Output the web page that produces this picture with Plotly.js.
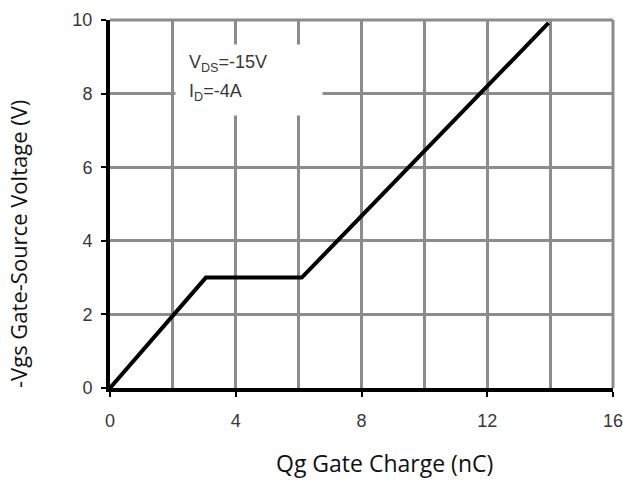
<!DOCTYPE html>
<html>
<head>
<meta charset="utf-8">
<script src="https://cdn.plot.ly/plotly-3.0.1.min.js"></script>
<style>html,body{margin:0;padding:0;background:#fff;}</style>
</head>
<body>
<div id="chart" style="width:623px;height:484px;"></div>
<script>
const qg = [0, 3.05, 6.1, 13.95];
const vgs = [0, 3.0, 3.0, 9.92];
const xTicks = [0, 4, 8, 12, 16];
const yTicks = [0, 2, 4, 6, 8, 10];
const xTitle = "Qg Gate Charge (nC)";
const yTitle = "-Vgs Gate-Source Voltage (V)";
const noteLine1 = "V<sub>DS</sub>=-15V";
const noteLine2 = "I<sub>D</sub>=-4A";

const gridColor = "#8c8c8c";
const tickFont = {family: "Liberation Sans, Arial, sans-serif", size: 18, color: "#383838"};
const noteFont = {family: "Liberation Sans, Arial, sans-serif", size: 18, color: "#383838"};

const data = [{
  x: qg, y: vgs, type: "scatter", mode: "lines",
  line: {color: "#000", width: 4}, hoverinfo: "skip", cliponaxis: false
}];

const layout = {
  width: 623, height: 484,
  margin: {l: 110, r: 10, t: 20, b: 96},
  paper_bgcolor: "#fff", plot_bgcolor: "#fff",
  showlegend: false,
  xaxis: {
    range: [0, 16], tickvals: xTicks, ticktext: xTicks.map(String),
    showgrid: true, gridcolor: gridColor, gridwidth: 3,
    minor: {dtick: 2, tick0: 0, showgrid: true, gridcolor: gridColor, gridwidth: 3, ticks: ""},
    showline: true, linecolor: "#000", linewidth: 4,
    ticks: "outside", ticklen: 5, tickwidth: 2, tickcolor: "#000",
    ticklabelstandoff: 8, ticklabeloverflow: "allow",
    tickfont: tickFont, zeroline: false, fixedrange: true
  },
  yaxis: {
    range: [0, 10], tickvals: yTicks, ticktext: yTicks.map(String),
    showgrid: true, gridcolor: gridColor, gridwidth: 3,
    showline: true, linecolor: "#000", linewidth: 4,
    ticks: "outside", ticklen: 5, tickwidth: 2, tickcolor: "#000",
    ticklabelstandoff: 5, ticklabeloverflow: "allow",
    tickfont: tickFont, zeroline: false, fixedrange: true
  },
  shapes: [
    {type: "line", xref: "paper", yref: "paper", x0: 0, x1: 1, y0: 1, y1: 1, line: {color: gridColor, width: 3}, layer: "below"},
    {type: "line", xref: "paper", yref: "paper", x0: 1, x1: 1, y0: 0, y1: 1, line: {color: gridColor, width: 3}, layer: "below"}
  ],
  annotations: [
    {xref: "x", yref: "y", x: 4.42, y: 8.37, text: " ", showarrow: false,
     bgcolor: "#fff", width: 146, height: 70, borderpad: 0, font: {size: 10}},
    {xref: "x", yref: "y", x: 2.45, y: 8.82, text: noteLine1, showarrow: false,
     xanchor: "left", yanchor: "middle", font: noteFont},
    {xref: "x", yref: "y", x: 2.45, y: 8.02, text: noteLine2, showarrow: false,
     xanchor: "left", yanchor: "middle", font: noteFont},
    {xref: "paper", yref: "paper", x: (384 - 110) / 503, y: (388 - 463) / 368, text: xTitle,
     showarrow: false, font: {family: "Open Sans, sans-serif", size: 23, color: "#111"},
     xanchor: "center", yanchor: "middle"},
    {xref: "paper", yref: "paper", x: (18 - 110) / 503, y: (388 - 244) / 368, text: yTitle,
     showarrow: false, font: {family: "Open Sans, sans-serif", size: 22, color: "#111"},
     textangle: -90, xanchor: "center", yanchor: "middle"}
  ]
};

Plotly.newPlot("chart", data, layout, {displayModeBar: false, staticPlot: true});
</script>
</body>
</html>
